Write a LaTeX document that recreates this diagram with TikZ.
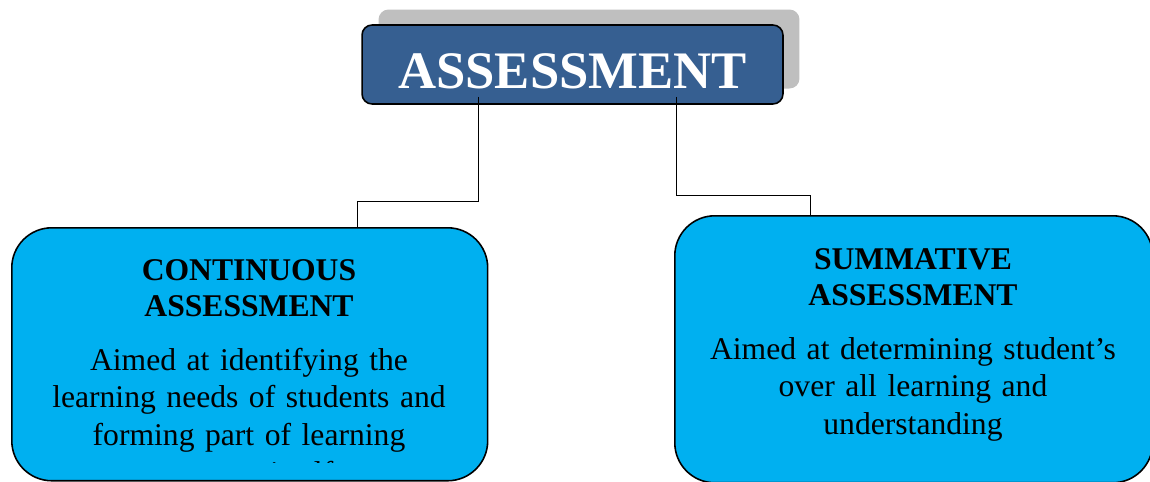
\documentclass[tikz,border=0pt]{standalone}
\usepackage{fontspec}
\setmainfont{Liberation Serif}
\usetikzlibrary{shadows}
\definecolor{titleblue}{HTML}{365F91}
\definecolor{boxblue}{HTML}{00B0F0}
\definecolor{shadowgray}{HTML}{BFBFBF}

\begin{document}
\begin{tikzpicture}[
		x=0.02cm, y=-0.02cm,
		titlebox/.style={draw, line width=0.9pt, rounded corners=0.2cm, fill=titleblue, text=white, font=\fontsize{30}{36}\selectfont\bfseries, minimum width=8.42cm, minimum height=1.58cm, text height=0.94cm, text depth=0pt, inner sep=0pt, copy shadow={shadow xshift=0.33cm, shadow yshift=0.31cm, fill=shadowgray, draw=none}},
		groupbox/.style={draw, line width=0.9pt, rounded corners=0.8cm, fill=boxblue, anchor=north west},
		headtext/.style={font=\fontsize{18}{21}\selectfont\bfseries, align=center, text width=9cm, inner sep=0pt, anchor=base},
		bodytext/.style={font=\fontsize{18}{21.5}\selectfont, align=center, text width=9cm, inner sep=0pt, anchor=base},
		link/.style={draw, line width=0.8pt}
		]
		\useasboundingbox (0,0) rectangle (1150,481);
		
		\node[titlebox] (assess) at (572.5,64.5) {ASSESSMENT};
		\node[groupbox, minimum width=9.52cm, minimum height=5.06cm] (cont) at (11,227) {};
		\node[groupbox, minimum width=9.56cm, minimum height=5.34cm] (summ) at (674,215) {};
		
		\node[headtext] (conthead) at (249,280) {CONTINUOUS\\ASSESSMENT};
		\begin{scope}
			\clip (0,0) rectangle (1150,462);
			\node[bodytext] (contbody) at (249,370) {Aimed at identifying the\\learning needs of students and\\forming part of learning\\process itself};
		\end{scope}
		\node[headtext] (summhead) at (913,269) {SUMMATIVE\\ASSESSMENT};
		\node[bodytext] (summbody) at (913,359) {Aimed at determining student’s\\over all learning and\\understanding};
		
		\draw[link] ([shift={(117,-8)}]assess.south west) -- ++(0,105) -| ([shift={(108,0)}]cont.north);
		\draw[link] ([shift={(315,-8)}]assess.south west) -- ++(0,99) -| ([shift={(-103,0)}]summ.north);
	\end{tikzpicture}
\end{document}
